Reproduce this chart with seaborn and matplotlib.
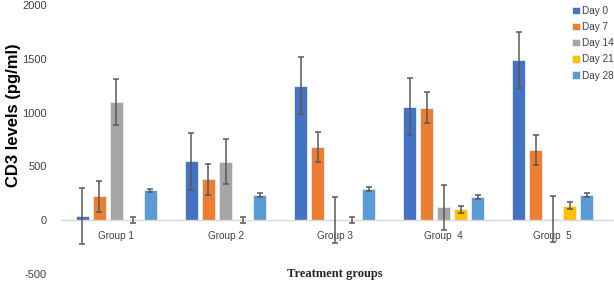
import matplotlib
matplotlib.use("Agg")
import matplotlib.pyplot as plt
import seaborn as sns
import pandas as pd
import numpy as np

groups = ["Group 1", "Group 2", "Group 3", "Group  4", "Group  5"]
days = ["Day 0", "Day 7", "Day 14", "Day 21", "Day 28"]
day0 = [35, 547, 1252, 1056, 1488]
day7 = [221, 379, 680, 1047, 652]
day14 = [1100, 545, 0, 118, 8]
day21 = [0, 0, 0, 100, 135]
day28 = [275, 230, 290, 214, 233]
err_day0 = [263, 263, 263, 263, 263]
err_day7 = [142, 142, 142, 142, 142]
err_day14 = [212, 212, 212, 212, 212]
err_day21 = [30, 30, 30, 30, 32]
err_day28 = [18, 18, 18, 17, 19]

colors = ["#4472C4", "#ED7D31", "#A5A5A5", "#FFC000", "#5B9BD5"]

values = [day0, day7, day14, day21, day28]
errs = [err_day0, err_day7, err_day14, err_day21, err_day28]
rows = []
for d, vals in zip(days, values):
    for g, v in zip(groups, vals):
        rows.append({"group": g, "day": d, "value": v})
df = pd.DataFrame(rows)

sns.set_style("white")
plt.rcParams["font.family"] = ["Liberation Sans", "DejaVu Sans"]

fig = plt.figure(figsize=(6.14, 2.86), dpi=100)
ax = fig.add_axes([0.099, 0.043, 0.899, 0.9385])

sns.barplot(data=df, x="group", y="value", hue="day", order=groups,
            hue_order=days, palette=colors, width=0.78, gap=0.23,
            errorbar=None, ax=ax, saturation=1, linewidth=0.6,
            edgecolor="#e8eef8")

for cont, e in zip(ax.containers, errs):
    xs = [p.get_x() + p.get_width() / 2 for p in cont.patches]
    ys = [p.get_height() + p.get_y() if p.get_y() == 0 else p.get_y() for p in cont.patches]
    ax.errorbar(xs, ys, yerr=e, fmt="none", ecolor="#595959",
                elinewidth=1.1, capsize=2.5, capthick=1.1, zorder=3)

ax.set_ylim(-500, 2000)
ax.set_xlim(-0.51, 4.55)
ax.set_yticks([-500, 0, 500, 1000, 1500, 2000])
ax.set_yticklabels(["-500", "0", "500", "1000", "1500", "2000"])
ax.tick_params(axis="y", length=0, pad=10, labelsize=8, labelcolor="#404040")
ax.tick_params(axis="x", length=0, pad=8, labelsize=7.2, labelcolor="#404040")

for s in ["top", "right", "left"]:
    ax.spines[s].set_visible(False)
ax.spines["bottom"].set_position(("data", 0))
ax.spines["bottom"].set_color("#d9d9d9")
ax.spines["bottom"].set_linewidth(1.0)

ax.set_ylabel("CD3 levels (pg/ml)", fontsize=12, fontweight="bold",
              color="#000000")
ax.yaxis.set_label_coords(-0.072, 0.59)
ax.set_xlabel("")
fig.text(0.546, 0.042, "Treatment groups", ha="center", va="center",
         fontsize=9, fontweight="bold", family="Liberation Serif")

leg = ax.legend(loc="upper left", bbox_to_anchor=(0.927, 0.998), frameon=False,
                fontsize=7.2, handlelength=0.75, handleheight=0.75,
                handletextpad=0.25, labelspacing=0.62, borderaxespad=0,
                borderpad=0)
for t in leg.get_texts():
    t.set_color("#404040")

fig.savefig("out.png", dpi=100)
